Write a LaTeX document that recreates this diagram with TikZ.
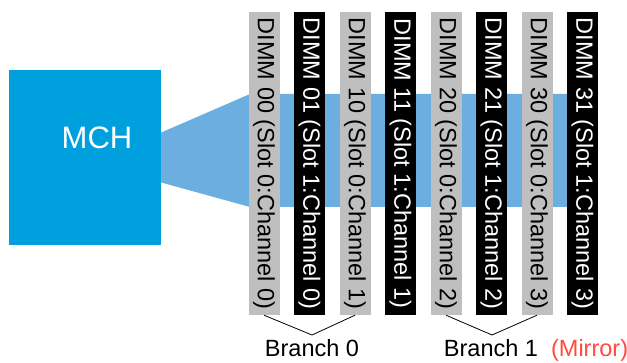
\documentclass[tikz,border=0pt]{standalone}
\usepackage{fontspec}
\setmainfont{Liberation Sans}
\usepackage{tikz}
\usetikzlibrary{positioning, calc, backgrounds}
\definecolor{mchblue}{RGB}{0,160,222}
\definecolor{busblue}{RGB}{108,174,224}
\definecolor{dimmgray}{RGB}{190,191,190}
\definecolor{mirrorred}{RGB}{255,74,61}

\begin{document}
\begin{tikzpicture}[x=1pt,y=-1pt,
  dimm/.style={shape=rectangle,rotate=-90,minimum width=303pt,minimum height=31pt,inner sep=0pt,font=\fontsize{23.5}{24}\selectfont},
  dimmA/.style={dimm,fill=dimmgray,text=black},
  dimmB/.style={dimm,fill=black,text=white},
  branch/.style={anchor=base,font=\fontsize{23.5}{24}\selectfont}]
  \useasboundingbox (0,0) rectangle (627,363);

  \node[shape=rectangle,fill=mchblue,minimum width=152pt,minimum height=175pt] (mch) at (85,157.5) {};
  \node[text=white,font=\fontsize{31}{32}\selectfont] (mchtext) at (97,138) {MCH};

  \node[dimmA] (d00) at (264,163.5) {DIMM 00 (Slot 0:Channel 0)};
  \node[dimmB] (d01) at (309.5,163.5) {DIMM 01 (Slot 1:Channel 0)};
  \node[dimmA] (d10) at (355,163.5) {DIMM 10 (Slot 0:Channel 1)};
  \node[dimmB] (d11) at (400.5,163.5) {DIMM 11 (Slot 1:Channel 1)};
  \node[dimmA] (d20) at (446,163.5) {DIMM 20 (Slot 0:Channel 2)};
  \node[dimmB] (d21) at (491.5,163.5) {DIMM 21 (Slot 1:Channel 2)};
  \node[dimmA] (d30) at (537,163.5) {DIMM 30 (Slot 0:Channel 3)};
  \node[dimmB] (d31) at (582.5,163.5) {DIMM 31 (Slot 1:Channel 3)};

  \begin{scope}[on background layer]
    \fill[busblue] ($(mch.east)+(0,-25)$) -- (250,94) -- (582,94)
      -- (582,207) -- (250,207) -- ($(mch.east)+(0,25)$) -- cycle;
  \end{scope}

  \coordinate (apex0) at (312,335);
  \draw[line width=0.8pt] (d00.east) -- (apex0) -- (d10.east);
  \node[branch] (br0) at (312,357) {Branch 0};

  \coordinate (apex1) at (492,335);
  \draw[line width=0.8pt] (d20.east) -- (apex1) -- (d30.east);
  \node[branch] (br1) at (491,357) {Branch 1};
  \node[branch,anchor=base west,text=mirrorred] (mirror) at ([xshift=6pt]br1.base east) {(Mirror)};

\end{tikzpicture}
\end{document}
